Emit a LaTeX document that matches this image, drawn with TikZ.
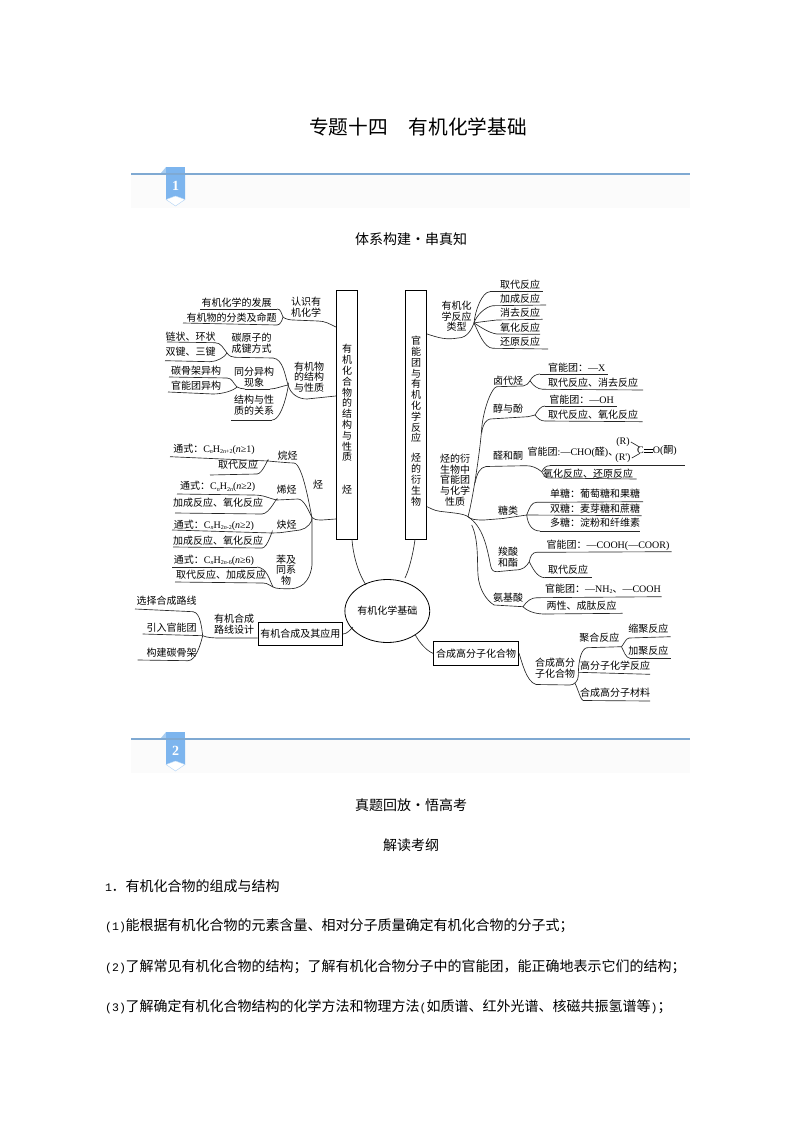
\documentclass[tikz,border=0pt]{standalone}
\usepackage{fontspec}
\usetikzlibrary{shapes.geometric}
\setmainfont{Noto Sans CJK SC}
\newfontfamily\latf{Liberation Serif}
\newfontfamily\monf{Liberation Mono}
\newcommand\ltn[1]{{\latf #1}}
\newcommand\mon[1]{{\monf\fontsize{11.5}{16}\selectfont #1}}
\newcommand\sbs[1]{\raisebox{-1.5pt}{\fontsize{6}{6}\selectfont #1}}
\newcommand\fml[2]{通式：\ltn{C\sbs{\itshape n}H\sbs{#1}(\textit{n}≥#2)}}
\newcommand\dbl{\rlap{\rule[1.6pt]{9pt}{.5pt}}\rule[3.8pt]{9pt}{.5pt}}
\newcommand\ul[5]{\coordinate (#1l) at (#2,#3); \coordinate (#1r) at (#4,#5); \draw[ln] (#1l) -- (#1r);}
\tikzset{
  x=1pt,y=-1pt,
  ln/.style={line width=.65pt,black!85},
  tx/.style={inner sep=0pt,align=center,font=\fontsize{10}{10.8}\selectfont,text=black},
  bx/.style={draw=black,line width=.9pt,inner sep=0pt,font=\fontsize{10}{10.8}\selectfont,text=black},
  hd/.style={inner sep=0pt,font=\fontsize{14}{16}\selectfont,text=black},
  bd/.style={inner sep=0pt,anchor=west,font=\fontsize{14}{16}\selectfont,text=black},
}
\definecolor{ribbon}{HTML}{7DB5EE}
\definecolor{ribtab}{HTML}{A9CDF0}
\definecolor{rule}{HTML}{7FA9D2}
\definecolor{band}{HTML}{FBFBFB}
\newcommand\hdband[3]{%
  \fill[band] (131,#1) rectangle (690,#1+34);
  \fill[ribtab] (161,#1-1) -- (166,#1-7) -- (166,#1-1) -- cycle;
  \fill[ribbon] (166,#1-7) rectangle (185,#1-1);
  \draw[rule,line width=1.1pt] (131,#1) -- (690,#1);
  \fill[ribbon] (166,#1+1) -- (185,#1+1) -- (185,#1+25.5) -- (175.5,#1+22) -- (166,#1+25.5) -- cycle;
  \draw[ribbon!60,line width=.4pt,fill=white] (166,#1+25.5) -- (175.5,#1+22) -- (185,#1+25.5) -- (175.5,#1+32) -- cycle;
  \node[inner sep=0pt,text=white,font=\latf\bfseries\fontsize{14}{14}\selectfont] (#3) at (175.5,#1+12) {#2};
}
\begin{document}
\begin{tikzpicture}
\useasboundingbox (0,0) rectangle (794,1123);
\fill[white] (0,0) rectangle (794,1123);
\node[inner sep=0pt,font=\fontsize{19.7}{22}\selectfont,text=black] (title) at (418,127) {专题十四\hspace{21pt}有机化学基础};
\hdband{174}{1}{num1}
\hdband{739}{2}{num2}
\node[hd] (h1) at (411,239) {体系构建·串真知};
\node[hd] (h2) at (411,805) {真题回放·悟高考};
\node[hd] (h3) at (411,845) {解读考纲};
\node[bd] (b1) at (105,886) {\makebox[20.5pt][l]{\mon{1}\hspace{-.5pt}．}有机化合物的组成与结构};
\node[bd] (b2) at (105,926) {\makebox[20.5pt][l]{\mon{(1)}}能根据有机化合物的元素含量、相对分子质量确定有机化合物的分子式；};
\node[bd] (b3) at (105,967) {\makebox[20.5pt][l]{\mon{(2)}}了解常见有机化合物的结构；了解有机化合物分子中的官能团，能正确地表示它们的结构；};
\node[bd] (b4) at (105,1007) {\makebox[20.5pt][l]{\mon{(3)}}了解确定有机化合物结构的化学方法和物理方法\mon{(}如质谱、红外光谱、核磁共振氢谱等\mon{)}；};

% main shapes
\node[bx,minimum width=21.5pt,minimum height=249pt] (lbox) at (347,415) {};
\node[bx,minimum width=21pt,minimum height=249pt] (rbox) at (416.2,415) {};
\node[bx,draw=black,line width=.8pt,ellipse,minimum width=76pt,minimum height=63pt] (core) at (387.3,611) {有机化学基础};
\node[bx,minimum width=84.5pt,minimum height=22.5pt] (synth) at (300.3,634) {有机合成及其应用};
\node[bx,minimum width=85pt,minimum height=23.5pt] (poly) at (476,653.3) {合成高分子化合物};
\node[tx] (ltext) at (347,403) {有\\机\\化\\合\\物\\的\\结\\构\\与\\性\\质};
\node[tx] (ltext2) at (347,490) {烃};
\node[tx] (rtext) at (416,389.5) {官\\能\\团\\与\\有\\机\\化\\学\\反\\应};
\node[tx] (rtext2) at (416,479.7) {烃\\的\\衍\\生\\物};

% box-to-circle
\draw[ln] (352,539.5) .. controls +(1,15) and +(-8,-12) .. (366,585);
\draw[ln] (415,539.5) .. controls +(-2,15) and +(4,-8) .. (405,578);
\draw[ln] (synth.east) .. controls +(4,0) and +(-3,3) .. (353,627);
\draw[ln] (415,634.3) .. controls +(4,8) and +(-6,-2) .. (poly.west);

% ---------- left: 认识有机化学
\node[tx] (a1) at (236.7,302.7) {有机化学的发展};
\node[tx] (a2) at (231.7,317.7) {有机物的分类及命题};
\node[tx] (a0) at (306,307.5) {认识有\\机化学};
\coordinate (ja) at (283,317);
\ul{a1}{200}{309}{277}{309}
\ul{a2}{183}{323}{277}{325}
\ul{a0}{293}{320}{318}{321}
\draw[ln] (a1r) .. controls +(4,0) and +(-2,-4) .. (ja);
\draw[ln] (a2r) .. controls +(3,0) and +(-1,4) .. (ja);
\draw[ln] (ja) .. controls +(2,2) and +(-3,0) .. (a0l);
\draw[ln] (a0r) .. controls +(7,0) and +(-6,-3) .. (lbox.west |- 0,327);

% ---------- left: 有机物的结构与性质
\node[tx] (b0) at (309,377) {有机物\\的结构\\与性质};
\node[tx] (c1) at (190.7,336.7) {链状、环状};
\node[tx] (c2) at (190.7,352) {双键、三键};
\node[tx] (c0) at (251.7,343.2) {碳原子的\\成键方式};
\coordinate (jc) at (227,353);
\coordinate (jb) at (288,385);
\ul{c1}{167}{342}{215}{342.7}
\ul{c2}{165}{360.7}{210}{361.7}
\ul{c0}{235}{357.3}{273}{358}
\draw[ln] (c1r) .. controls +(6,0) and +(-4,-5) .. (jc);
\draw[ln] (c2r) .. controls +(7,0) and +(-2,4) .. (jc);
\draw[ln] (jc) .. controls +(2,3) and +(-3,0) .. (c0l);
\draw[ln] (c0r) .. controls +(10,1) and +(-3,-10) .. (jb);
\node[tx] (d1) at (196,370.7) {碳骨架异构};
\node[tx] (d2) at (196,385.3) {官能团异构};
\node[tx] (d0) at (254,377.3) {同分异构\\现象};
\coordinate (jd) at (237,387);
\ul{d1}{169}{377}{227}{378}
\ul{d2}{168}{392}{213}{394}
\ul{d0}{245}{389}{270}{389}
\draw[ln] (d1r) .. controls +(5,0) and +(-4,-4) .. (jd);
\draw[ln] (d2r) .. controls +(9,0) and +(-4,4) .. (jd);
\draw[ln] (jd) .. controls +(2,1) and +(-3,0) .. (d0l);
\draw[ln] (d0r) .. controls +(6,0) and +(-6,1) .. (jb);
\node[tx] (e0) at (254,405.5) {结构与性\\质的关系};
\ul{e0}{231}{420}{272}{420}
\draw[ln] (e0r) .. controls +(12,0) and +(2,-8) .. (jb) ;
\coordinate (bl) at (307,399);
\draw[ln] (jb) .. controls +(3,10) and +(-8,0) .. (bl) -- (lbox.west |- 0,396);

% ---------- left: 烃
\node[tx] (hy) at (318,485) {烃};
\coordinate (jh) at (312,517.5);
\draw[ln] (jh) .. controls +(2,2) and +(-6,0) .. (322,520) -- (lbox.west |- 0,519);
\node[tx] (f1) at (214,449) {\fml{2\textit{n}+2}{1}};
\node[tx] (f2) at (238,465) {取代反应};
\node[tx] (f0) at (287.7,456) {烷烃};
\coordinate (jf) at (268,461);
\ul{f1}{170}{456.7}{268}{461}
\ul{f2}{210}{475}{257}{474}
\draw[ln] (f2r) .. controls +(6,0) and +(1,-6) .. (jf);
\draw[ln] (jf) .. controls +(10,1) and +(-3,0) .. (294,463) .. controls +(9,1) and +(-2,-8) .. (jh);
\node[tx] (g1) at (217.7,486.7) {\fml{2\textit{n}}{2}};
\node[tx] (g2) at (218,503) {加成反应、氧化反应};
\node[tx] (g0) at (286.7,490) {烯烃};
\coordinate (jg) at (277,500);
\ul{g1}{177}{494}{253}{495}
\ul{g2}{175}{513}{262}{514}
\draw[ln] (g1r) .. controls +(12,0) and +(-10,-2) .. (jg);
\draw[ln] (g2r) .. controls +(8,0) and +(1,-6) .. (jg);
\draw[ln] (jg) -- (298,499) .. controls +(6,0) and +(-3,-6) .. (jh);
\node[tx] (k1) at (214,525) {\fml{2\textit{n}-2}{2}};
\node[tx] (k2) at (218,540.7) {加成反应、氧化反应};
\node[tx] (k0) at (286.7,525) {炔烃};
\coordinate (jk) at (272,533);
\ul{k1}{172}{530}{272}{533}
\ul{k2}{173}{547}{262}{548}
\draw[ln] (k2r) .. controls +(6,0) and +(1,-6) .. (jk);
\draw[ln] (jk) -- (280,532.7) -- (300,530) .. controls +(7,-1) and +(1,4) .. (jh);
\node[tx] (m1) at (214,560) {\fml{2\textit{n}-6}{6}};
\node[tx] (m2) at (221,575) {取代反应、加成反应};
\node[tx] (m0) at (286,570) {苯及\\同系\\物};
\coordinate (jm) at (273,587);
\ul{m1}{172}{567}{257}{567}
\ul{m2}{175}{582}{263}{583}
\draw[ln] (m1r) .. controls +(10,1) and +(-4,-8) .. (jm);
\draw[ln] (m2r) .. controls +(5,0) and +(-3,-1) .. (jm);
\draw[ln] (jm) .. controls +(3,2) and +(-6,0) .. (290,588.7) .. controls +(16,0) and +(-1,10) .. (312,565) -- (jh);

% ---------- left: 有机合成
\node[tx] (s0) at (234,623.9) {有机合成\\路线设计};
\node[tx] (s1) at (166.7,601) {选择合成路线};
\node[tx] (s2) at (171.7,628) {引入官能团};
\node[tx] (s3) at (171.7,652.7) {构建碳骨架};
\coordinate (js) at (202.7,635.7);
\ul{s1}{135}{609}{193}{611.7}
\ul{s2}{142.7}{634}{202.7}{635.7}
\ul{s3}{137.7}{660}{188}{660.7}
\draw[ln] (s1r) .. controls +(8,1) and +(-1,-6) .. (js);
\draw[ln] (s3r) .. controls +(8,0) and +(-2,8) .. (js);
\draw[ln] (js) .. controls +(4,2) and +(-6,0) .. (220,638) -- (synth.west |- 0,638);

% ---------- right: 反应类型
\node[tx] (t0) at (456.7,316.3) {有机化\\学反应\\类型};
\coordinate (jt) at (474,323);
\draw[ln] (rbox.east |- 0,334) .. controls +(12,4) and +(-12,2) .. (458,338) .. controls +(10,0) and +(-2,5) .. (jt);
\node[tx] (t1) at (520,284.3) {取代反应};
\node[tx] (t2) at (520,298.7) {加成反应};
\node[tx] (t3) at (520,313) {消去反应};
\node[tx] (t4) at (520,327.3) {氧化反应};
\node[tx] (t5) at (520,341.7) {还原反应};
\ul{t1}{490}{291.7}{542.7}{291.7}
\ul{t2}{493}{305.7}{546}{305}
\ul{t3}{496.7}{320}{542.7}{319.3}
\ul{t4}{496.7}{334}{540}{334.3}
\ul{t5}{493}{348.3}{548}{349}
\draw[ln] (jt) .. controls +(1,-12) and +(-8,0) .. (t1l);
\draw[ln] (jt) .. controls +(2,-7) and +(-8,1) .. (t2l);
\draw[ln] (jt) .. controls +(5,-1) and +(-8,1) .. (t3l);
\draw[ln] (jt) .. controls +(5,3) and +(-8,-1) .. (t4l);
\draw[ln] (jt) .. controls +(4,8) and +(-9,0) .. (t5l);

% ---------- right: 烃的衍生物
\node[tx] (u0) at (455,480) {烃的衍\\生物中\\官能团\\与化学\\性质};
\coordinate (ju) at (468,516.7);
\draw[ln] (rbox.east |- 0,506.7) .. controls +(8,4) and +(-10,-1) .. (446,512) .. controls +(8,1) and +(-4,-3) .. (ju);
% 卤代烃
\node[tx] (v0) at (508,380.7) {卤代烃};
\node[tx] (v1) at (576.7,368) {官能团：\ltn{—X}};
\node[tx] (v2) at (593,382.7) {取代反应、消去反应};
\coordinate (jv) at (530,380.7);
\ul{v1}{540}{374}{608}{374}
\ul{v2}{543}{389.3}{643}{390}
\coordinate (j0) at (481.7,428);
\draw[ln] (ju) .. controls +(5,-18) and +(-1,18) .. (j0) .. controls +(2,-20) and +(-5,1) .. (496.7,386.7) -- (523,386) .. controls +(3,0) and +(-2,3) .. (jv);
\draw[ln] (jv) .. controls +(2,-4) and +(-4,0) .. (v1l);
\draw[ln] (jv) .. controls +(3,5) and +(-5,0) .. (v2l);
% 醇与酚
\node[tx] (w0) at (508,409) {醇与酚};
\node[tx] (w1) at (581.7,400) {官能团：\ltn{—OH}};
\node[tx] (w2) at (593,414.7) {取代反应、氧化反应};
\coordinate (jw) at (535,415);
\ul{w1}{545}{406}{617}{406}
\ul{w2}{545}{421}{642.7}{421.7}
\draw[ln] (481.7,433) .. controls +(1,-9) and +(-4,1) .. (490,419) -- (528,416.7) -- (jw);
\draw[ln] (jw) .. controls +(3,-5) and +(-4,0) .. (w1l);
\draw[ln] (jw) .. controls +(3,4) and +(-4,0) .. (w2l);
% 醛和酮
\node[tx] (y0) at (508,456) {醛和酮};
\node[tx] (y1) at (573,452) {官能团\ltn{:—CHO(}醛\ltn{)}、};
\node[tx] (y1a) at (623,442) {\ltn{(R)}};
\node[tx] (y1b) at (623,458) {\ltn{(R')}};
\node[tx] (y1c) at (657,450.7) {\ltn{C\dbl O(}酮\ltn{)}};
\draw[ln] (y1a.east) ++(1,0) -- (640,447.3);
\draw[ln] (y1b.east) ++(1,0) -- (640,453.3);
\node[tx] (y2) at (588,473.3) {氧化反应、还原反应};
\coordinate (jy) at (541.7,471.7);
\ul{y1}{550}{465.7}{685}{465.7}
\ul{y2}{548}{478}{636.7}{479}
\draw[ln] (475,483) .. controls +(2,-10) and +(-6,1) .. (486,466.5) -- (526,465.7) .. controls +(6,0) and +(-5,-4) .. (jy);
\draw[ln] (jy) .. controls +(2,-4) and +(-4,0) .. (y1l);
\draw[ln] (jy) .. controls +(2,3) and +(-3,0) .. (y2l);
% 糖类
\node[tx] (z0) at (508,511) {糖类};
\node[tx] (z1) at (595,494) {单糖：葡萄糖和果糖};
\node[tx] (z2) at (595,508.3) {双糖：麦芽糖和蔗糖};
\node[tx] (z3) at (595,523) {多糖：淀粉和纤维素};
\coordinate (jz) at (526.7,515);
\ul{z1}{536.7}{502.3}{643}{501.7}
\ul{z2}{526.7}{515}{641.7}{515.7}
\ul{z3}{540}{531}{640}{531}
\draw[ln] (ju) .. controls +(3,3) and +(-8,0) .. (484,520) -- (503,518.5) -- (jz);
\draw[ln] (jz) .. controls +(3,-8) and +(-5,0) .. (z1l);
\draw[ln] (jz) .. controls +(1,8) and +(-9,0) .. (z3l);
% 羧酸和酯
\node[tx] (q0) at (508,557) {羧酸\\和酯};
\node[tx] (q1) at (608,545.7) {官能团：\ltn{—COOH(—COOR)}};
\node[tx] (q2) at (568,569.3) {取代反应};
\coordinate (jq) at (529.3,561.7);
\ul{q1}{536.7}{552.3}{671.7}{551.7}
\ul{q2}{545}{577.7}{591.7}{577.7}
\draw[ln] (ju) .. controls +(15,10) and +(-4,-20) .. (490.7,566) .. controls +(1,4) and +(-4,0) .. (497,571.7) -- (515,570) .. controls +(8,0) and +(-3,5) .. (jq);
\draw[ln] (jq) .. controls +(1,-6) and +(-4,0) .. (q1l);
\draw[ln] (jq) .. controls +(3,6) and +(-8,0) .. (q2l);
% 氨基酸
\node[tx] (p0) at (508,597.7) {氨基酸};
\node[tx] (p1) at (603,589) {官能团：\ltn{—NH\sbs{2}}、\ltn{—COOH}};
\node[tx] (p2) at (581.7,606) {两性、成肽反应};
\coordinate (jp) at (523,606.7);
\ul{p1}{536.7}{597.7}{661.7}{596.7}
\ul{p2}{545}{614}{622.7}{613.3}
\draw[ln] (471.7,525) .. controls +(7,15) and +(-1,-15) .. (478,575) .. controls +(1,14) and +(-8,-5) .. (494,605) -- (jp);
\draw[ln] (jp) .. controls +(4,-6) and +(-5,0) .. (p1l);
\draw[ln] (jp) .. controls +(6,6) and +(-7,0) .. (p2l);

% ---------- right: 合成高分子
\node[tx] (r0) at (555,668.3) {合成高分\\子化合物};
\coordinate (jr) at (578.3,676);
\draw[ln] (poly.east) .. controls +(3,8) and +(-10,-3) .. (536,684.5) -- (570,685) .. controls +(4,0) and +(0,5) .. (jr);
\node[tx] (r1) at (599.3,637.3) {聚合反应};
\node[tx] (r1a) at (648.3,628.3) {缩聚反应};
\node[tx] (r1b) at (648.3,651) {加聚反应};
\node[tx] (r2) at (615,665.7) {高分子化学反应};
\node[tx] (r3) at (615,692.3) {合成高分子材料};
\coordinate (jr1) at (621.5,646.7);
\ul{r1}{587}{647.7}{621.5}{646.7}
\ul{r1a}{629}{638}{670.7}{636.7}
\ul{r1b}{630}{658.3}{670.7}{658.3}
\ul{r2}{578.3}{672.3}{650}{674.3}
\ul{r3}{583}{700.5}{650}{701}
\draw[ln] (jr) .. controls +(0,-18) and +(-5,1) .. (r1l);
\draw[ln] (jr1) .. controls +(2,-2) and +(-3,0) .. (r1al);
\draw[ln] (jr1) .. controls +(2,4) and +(-4,0) .. (r1bl);
\draw[ln] (575,683.3) .. controls +(3,6) and +(-2,0) .. (r3l);
\end{tikzpicture}
\end{document}
